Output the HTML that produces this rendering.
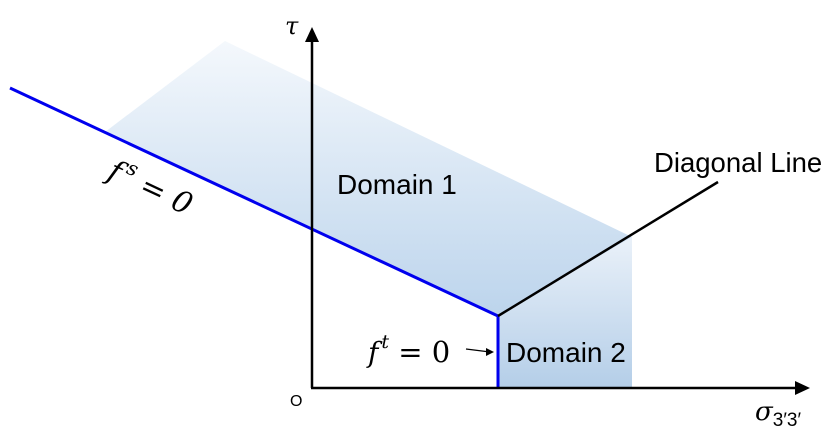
<!DOCTYPE html>
<html><head><meta charset="utf-8"><style>
html,body{margin:0;padding:0;background:#fff;}
svg{display:block;}
</style></head><body>
<svg width="837" height="448" viewBox="0 0 837 448" xmlns="http://www.w3.org/2000/svg">
<defs>
<linearGradient id="g1" x1="0" y1="41" x2="0" y2="316" gradientUnits="userSpaceOnUse">
<stop offset="0" stop-color="#f4f8fc"/><stop offset="1" stop-color="#bcd4ec"/></linearGradient>
<linearGradient id="g2" x1="0" y1="237" x2="0" y2="388" gradientUnits="userSpaceOnUse">
<stop offset="0" stop-color="#eaf1f9"/><stop offset="1" stop-color="#b4cee8"/></linearGradient>
</defs>
<polygon points="105,132 225,41 632,237 498,316" fill="url(#g1)"/>
<polygon points="498,316 632,237 632,388 498,388" fill="url(#g2)"/>
<line x1="10" y1="88" x2="498" y2="316" stroke="#0000ee" stroke-width="3"/>
<line x1="498" y1="316" x2="498" y2="388" stroke="#0000ee" stroke-width="3"/>
<line x1="498" y1="316" x2="718" y2="182" stroke="#000" stroke-width="2.5"/>
<line x1="312" y1="388" x2="312" y2="36" stroke="#000" stroke-width="2.5"/>
<polygon points="312,27 305,42 319,42" fill="#000"/>
<line x1="311" y1="388" x2="800" y2="388" stroke="#000" stroke-width="2.5"/>
<polygon points="810,388 795,381 795,395" fill="#000"/>
<line x1="466" y1="349" x2="490" y2="352" stroke="#000" stroke-width="1.2"/>
<polygon points="494,352 486,348 486,356" fill="#000"/>
<g style="font-family:'Liberation Sans',sans-serif">
<text x="285" y="34" style="font-family:'DejaVu Serif',serif;font-style:italic;font-size:24px">τ</text>
<text x="290" y="406" style="font-size:16px">O</text>
<text x="337" y="194" style="font-size:28px">Domain 1</text>
<text x="506" y="362" style="font-size:28px">Domain 2</text>
<text x="654" y="172" style="font-size:27.5px">Diagonal Line</text>
<text x="368" y="362" style="font-family:'DejaVu Serif',serif;font-size:28px"><tspan style="font-style:italic">f</tspan><tspan dx="3" dy="-14" style="font-size:19px;font-style:italic">t</tspan><tspan dy="14" style="font-size:29px"> = 0</tspan></text>
<text x="755" y="420" style="font-family:'DejaVu Serif',serif;font-size:26px;font-style:italic">σ<tspan dy="6" style="font-family:'Liberation Sans',sans-serif;font-size:19px;font-style:normal">3′3′</tspan></text>
<text transform="translate(106,178) rotate(25)" style="font-family:'DejaVu Serif',serif;font-size:30px"><tspan style="font-style:italic">f</tspan><tspan dx="4" dy="-13" style="font-size:20px;font-style:italic">s</tspan><tspan dy="13"> = </tspan><tspan style="font-style:italic">0</tspan></text>
</g>
</svg>
</body></html>
